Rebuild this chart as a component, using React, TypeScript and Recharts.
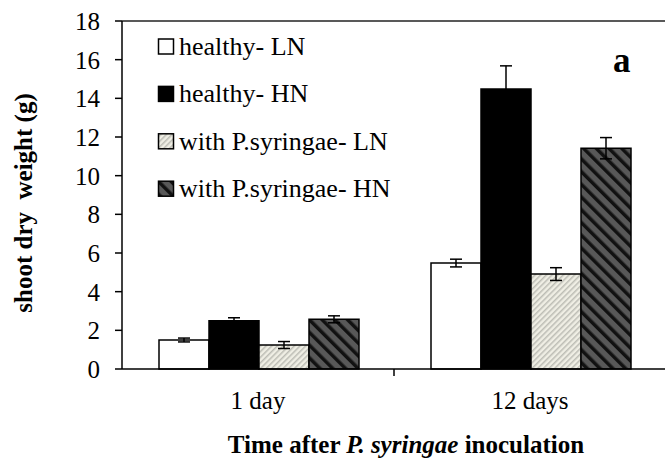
import { BarChart, Bar, XAxis, YAxis, ErrorBar, ReferenceLine } from 'recharts';

const FONT = '"Liberation Serif", "Times New Roman", serif';

// values (g)
const categories = ['1 day', '12 days'];
const healthyLN = [1.5, 5.48];
const healthyLNErr = [0.1, 0.2];
const healthyHN = [2.5, 14.48];
const healthyHNErr = [0.15, 1.2];
const pathoLN = [1.24, 4.91];
const pathoLNErr = [0.18, 0.33];
const pathoHN = [2.57, 11.42];
const pathoHNErr = [0.18, 0.55];
const seriesNames = ['healthy- LN', 'healthy- HN', 'with P.syringae- LN', 'with P.syringae- HN'];
const yTicks = [0, 2, 4, 6, 8, 10, 12, 14, 16, 18];

const data = categories.map((day, i) => ({
  day,
  hLN: healthyLN[i],
  hLNErr: healthyLNErr[i],
  hHN: healthyHN[i],
  hHNErr: healthyHNErr[i],
  pLN: pathoLN[i],
  pLNErr: pathoLNErr[i],
  pHN: pathoHN[i],
  pHNErr: pathoHNErr[i],
}));

const series = [
  { key: 'hLN', fill: '#ffffff' },
  { key: 'hHN', fill: '#000000' },
  { key: 'pLN', fill: 'url(#stripeLN)' },
  { key: 'pHN', fill: 'url(#stripeHN)' },
].map((s, i) => ({ ...s, name: seriesNames[i] }));

function DayTick(props: any) {
  const { x, y, payload, width, visibleTicksCount, index } = props;
  const half = payload?.offset ?? width / visibleTicksCount / 2;
  return (
    <g>
      <text x={x} y={y + 40} textAnchor="middle" fontSize={25} fontFamily={FONT} fill="#000">
        {payload.value}
      </text>
      {index < visibleTicksCount - 1 && (
        <line x1={x + half} x2={x + half} y1={y} y2={y + 7} stroke="#000" strokeWidth={1.5} />
      )}
    </g>
  );
}

function LegendBox() {
  return (
    <g fontFamily={FONT} fontSize={26}>
      {series.map((s, i) => {
        const base = 55 + i * 47.4;
        return (
          <g key={s.key}>
            <rect x={158.5} y={base - 16} width={15} height={15} fill={s.fill} stroke="#000" strokeWidth={1.5} />
            <text x={179} y={base} fill="#000">
              {s.name}
            </text>
          </g>
        );
      })}
    </g>
  );
}

export default function App() {
  return (
    <div style={{ position: 'absolute', left: 0, top: 0, width: 665, height: 461, overflow: 'hidden', background: '#fff' }}>
      <BarChart
        width={666}
        height={461}
        data={data}
        margin={{ top: 21, right: 0, left: 0, bottom: 0 }}
        barCategoryGap={37}
        barGap={0}
      >
        <defs>
          <pattern id="stripeLN" patternUnits="userSpaceOnUse" width={4} height={4} patternTransform="rotate(45)">
            <rect width={4} height={4} fill="#efeee4" />
            <rect width={1.5} height={4} fill="#bcbcb4" />
          </pattern>
          <pattern id="stripeHN" patternUnits="userSpaceOnUse" width={9} height={9} patternTransform="rotate(-45)">
            <rect width={9} height={9} fill="#585858" />
            <rect width={3.5} height={9} fill="#111111" />
          </pattern>
        </defs>
        <XAxis
          dataKey="day"
          height={92}
          axisLine={{ stroke: '#000', strokeWidth: 1.5 }}
          tickLine={false}
          tickSize={0}
          tickMargin={0}
          tick={<DayTick />}
          interval={0}
          label={{
            content: () => (
              <text x={406} y={453} textAnchor="middle" fontSize={25} fontFamily={FONT} fontWeight="bold" fill="#000">
                Time after <tspan fontStyle="italic">P. syringae</tspan> inoculation
              </text>
            ),
          }}
        />
        <YAxis
          width={122}
          domain={[0, 18]}
          ticks={yTicks}
          interval={0}
          axisLine={{ stroke: '#000', strokeWidth: 1.5 }}
          tickLine={{ stroke: '#000', strokeWidth: 1.5 }}
          tickSize={7}
          tickMargin={15}
          tick={{ fill: '#000', fontSize: 25, fontFamily: FONT }}
          label={{
            content: () => (
              <text
                transform="translate(32,203) rotate(-90)"
                textAnchor="middle"
                fontSize={25}
                fontFamily={FONT}
                fontWeight="bold"
                fill="#000"
                style={{ whiteSpace: 'pre' }}
              >
                {'shoot dry  weight (g)'}
              </text>
            ),
          }}
        />
        <ReferenceLine y={18} stroke="#222" strokeWidth={1.5} />
        {series.map((s) => (
          <Bar
            key={s.key}
            dataKey={s.key}
            name={s.name}
            fill={s.fill}
            stroke="#000"
            strokeWidth={1.5}
            isAnimationActive={false}
          >
            <ErrorBar dataKey={`${s.key}Err`} width={6} stroke="#000" strokeWidth={1.5} />
          </Bar>
        ))}
        <LegendBox />
        <text x={613} y={72} fontSize={35} fontWeight="bold" fontFamily={FONT} fill="#000">
          a
        </text>
      </BarChart>
    </div>
  );
}
